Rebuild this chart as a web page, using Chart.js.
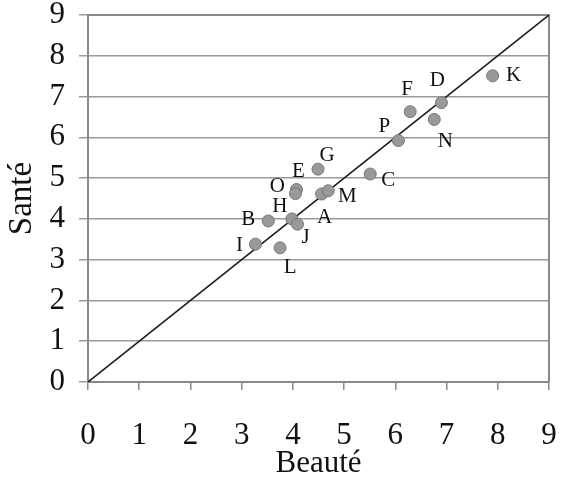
<!DOCTYPE html>
<html>
<head>
<meta charset="utf-8">
<script src="https://cdn.jsdelivr.net/npm/chart.js@4.4.1/dist/chart.umd.min.js"></script>
<style>
  html, body { margin: 0; padding: 0; background: #ffffff; }
  #wrap { width: 571px; height: 483px; }
</style>
</head>
<body>
<div id="wrap"><canvas id="c" width="571" height="483"></canvas></div>
<script>
// ---- Data ----
const pointLabels = ['A','B','C','D','E','F','G','H','I','J','K','L','M','N','O','P'];
const beaute =      [4.56, 3.52, 5.51, 6.90, 4.07, 6.29, 4.49, 3.98, 3.27, 4.09, 7.90, 3.75, 4.69, 6.76, 4.05, 6.06];
const sante =       [4.61, 3.95, 5.10, 6.85, 4.72, 6.63, 5.22, 4.00, 3.38, 3.87, 7.51, 3.29, 4.69, 6.44, 4.62, 5.92];
const diagonalX = [0, 9];
const diagonalY = [0, 9];
const tickValues = [0, 1, 2, 3, 4, 5, 6, 7, 8, 9];
const xTitle = 'Beauté';
const yTitle = 'Santé';

// label placement (pixel offsets from each point, styling only)
const labelOffsets = {
  A: [3, 23], B: [-20, -1], C: [18, 6], D: [-4, -22], E: [2, -18], F: [-3, -22],
  G: [9, -14], H: [-12, -12], I: [-16, 1], J: [8, 13], K: [21, 0], L: [10, 20],
  M: [19, 6], N: [11, 22], O: [-18, -7], P: [-14, -14]
};

const FONT = "'Liberation Serif', 'Times New Roman', serif";

const frame = {
  id: 'frame',
  beforeDatasetsDraw(chart) {
    const { ctx, chartArea: a } = chart;
    ctx.save();
    ctx.strokeStyle = '#8a8a8a';
    ctx.lineWidth = 2;
    ctx.beginPath();
    ctx.moveTo(a.left, a.top);
    ctx.lineTo(a.right, a.top);
    ctx.lineTo(a.right, a.bottom);
    ctx.stroke();
    ctx.restore();
  }
};

const pointText = {
  id: 'pointText',
  afterDatasetsDraw(chart) {
    const { ctx } = chart;
    const meta = chart.getDatasetMeta(1);
    ctx.save();
    ctx.font = '21px ' + FONT;
    ctx.fillStyle = '#111';
    ctx.textAlign = 'center';
    ctx.textBaseline = 'middle';
    meta.data.forEach((el, i) => {
      const lab = pointLabels[i];
      const off = labelOffsets[lab] || [0, 0];
      ctx.fillText(lab, el.x + off[0], el.y + off[1]);
    });
    ctx.restore();
  }
};

new Chart(document.getElementById('c'), {
  type: 'scatter',
  data: {
    datasets: [
      {
        type: 'line',
        data: diagonalX.map((x, i) => ({ x, y: diagonalY[i] })),
        borderColor: '#1a1a1a',
        borderWidth: 1.6,
        pointRadius: 0,
        fill: false,
        order: 2
      },
      {
        data: beaute.map((x, i) => ({ x, y: sante[i] })),
        backgroundColor: '#999999',
        borderColor: '#777777',
        borderWidth: 1,
        pointRadius: 6,
        order: 1
      }
    ]
  },
  options: {
    responsive: false,
    animation: false,
    layout: { padding: { top: 15, right: 22, left: 0, bottom: 0 } },
    plugins: { legend: { display: false }, tooltip: { enabled: false } },
    scales: {
      x: {
        type: 'linear',
        min: 0, max: 9,
        afterBuildTicks: s => { s.ticks = tickValues.map(v => ({ value: v })); },
        afterFit: s => { s.height = 101; s.paddingLeft = 0; s.paddingRight = 0; },
        grid: { display: true, drawOnChartArea: false, drawTicks: true, tickLength: 8, color: '#8a8a8a', lineWidth: 1.5 },
        border: { display: true, color: '#8a8a8a', width: 2 },
        ticks: { color: '#111', font: { family: FONT, size: 31 }, padding: 27, maxRotation: 0, autoSkip: false },
        title: { display: true, text: xTitle, color: '#111', font: { family: FONT, size: 31 }, padding: { top: 0, bottom: 1 } }
      },
      y: {
        type: 'linear',
        min: 0, max: 9,
        afterBuildTicks: s => { s.ticks = tickValues.map(v => ({ value: v })); },
        afterFit: s => { s.width = 88; s.paddingTop = 0; s.paddingBottom = 0; },
        grid: { display: true, drawTicks: true, tickLength: 9, color: '#9a9a9a', lineWidth: 1.5 },
        border: { display: true, color: '#8a8a8a', width: 2 },
        ticks: { color: '#111', font: { family: FONT, size: 31 }, padding: 14, autoSkip: false },
        title: { display: true, text: yTitle, color: '#111', font: { family: FONT, size: 33 }, padding: { top: 3, bottom: 0 } }
      }
    }
  },
  plugins: [frame, pointText]
});
</script>
</body>
</html>
